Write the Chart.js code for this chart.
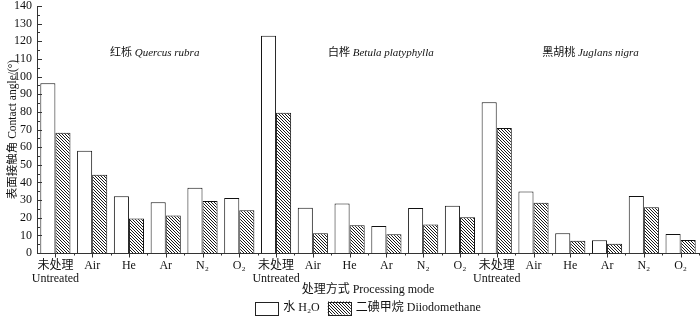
<!DOCTYPE html>
<html>
<head>
<meta charset="utf-8">
<script src="https://cdn.jsdelivr.net/npm/chart.js@4/dist/chart.umd.min.js"></script>
<style>
html,body{margin:0;padding:0;background:#fff;}
#wrap{width:700px;height:316px;position:relative;}
</style>
</head>
<body>
<div id="wrap"><canvas id="c" width="700" height="316"></canvas></div>
<script>
// ---- data ----
const categories = [
  ["未处理","Untreated"],"Air","He","Ar","N₂","O₂",
  ["未处理","Untreated"],"Air","He","Ar","N₂","O₂",
  ["未处理","Untreated"],"Air","He","Ar","N₂","O₂"
];
const waterValues = [96.2,58.0,32.1,28.7,37.0,31.2, 123.2,25.7,28.0,15.3,25.5,26.8, 85.4,34.8,11.2,7.2,32.3,10.8];
const diiodoValues = [68.2,44.4,19.5,21.3,29.5,24.2, 79.5,11.2,15.7,10.6,16.1,20.2, 70.9,28.5,7.0,5.3,25.9,7.4];
const seriesNames = ["水 H₂O","二碘甲烷 Diiodomethane"];
const groupNamesCN = ["红栎","白桦","黑胡桃"];
const groupNamesLatin = ["Quercus rubra","Betula platyphylla","Juglans nigra"];
const yTitle = "表面接触角 Contact angle/(°)";
const xTitle = "处理方式 Processing mode";

const SERIF = "'Liberation Serif','Noto Sans CJK SC',serif";

function hatch(){
  const s = 3;
  const c = document.createElement('canvas');
  c.width = s; c.height = s;
  const g = c.getContext('2d');
  g.fillStyle = '#fff'; g.fillRect(0,0,s,s);
  g.fillStyle = '#1a1a1a';
  for(let i=0;i<s;i++){ g.fillRect(i,i,1,1); }
  return document.getElementById('c').getContext('2d').createPattern(c,'repeat');
}
const hatchPattern = hatch();

const extras = {
  id:'extras',
  afterDraw(chart){
    const ctx = chart.ctx;
    const xs = chart.scales.x, ys = chart.scales.y;
    const area = chart.chartArea;
    const n = categories.length;
    const cw = (area.right - area.left)/n;
    ctx.save();
    ctx.strokeStyle = '#333'; ctx.lineWidth = 1;
    ctx.beginPath();
    // y inner ticks
    for(let v=0; v<=140; v+=5){
      const y = Math.round(ys.getPixelForValue(v))+0.5;
      const len = (v%10===0)?5:3;
      ctx.moveTo(area.left, y); ctx.lineTo(area.left+len, y);
    }
    // x ticks
    const yb = Math.round(area.bottom)+0.5;
    for(let i=0;i<n;i++){
      const x = Math.round(xs.getPixelForValue(i))+0.5;
      ctx.moveTo(x,yb); ctx.lineTo(x,yb+4);
      const xb = Math.round(area.left+(i+1)*cw)+0.5;
      ctx.moveTo(xb,yb); ctx.lineTo(xb,yb+2);
    }
    ctx.stroke();

    // group labels
    const anchors = [2.7, 8.85, 14.55];
    ctx.fillStyle = '#111';
    ctx.textBaseline = 'middle';
    const gy = ys.getPixelForValue(113.5);
    const gf = "11px " + SERIF, gfi = "italic 11px " + SERIF;
    for(let g=0; g<3; g++){
      const cx = area.left + (anchors[g]+0.5)*cw;
      ctx.font = gf;
      const w1 = ctx.measureText(groupNamesCN[g]+" ").width;
      ctx.font = gfi;
      const w2 = ctx.measureText(groupNamesLatin[g]).width;
      let x0 = cx - (w1+w2)/2;
      ctx.textAlign = 'left';
      ctx.font = gf;
      ctx.fillText(groupNamesCN[g]+" ", x0, gy);
      ctx.font = gfi;
      ctx.fillText(groupNamesLatin[g], x0+w1, gy);
    }

    // x title
    ctx.font = "12px " + SERIF;
    ctx.textAlign = 'center';
    const midX = (area.left+area.right)/2;
    ctx.fillText(xTitle, midX, 290);

    // legend
    const ds = chart.data.datasets;
    const boxW = 23, boxH = 13, gap = 5, itemGap = 8;
    let widths = ds.map(d => boxW + gap + ctx.measureText(d.label).width);
    let total = widths.reduce((a,b)=>a+b,0) + itemGap*(ds.length-1);
    let x = midX - total/2;
    const ly = 308;
    ctx.textAlign = 'left';
    ds.forEach((d,i)=>{
      ctx.fillStyle = d.backgroundColor;
      ctx.fillRect(x, ly-boxH/2, boxW, boxH);
      ctx.strokeStyle = '#222';
      ctx.strokeRect(Math.round(x)+0.5, Math.round(ly-boxH/2)+0.5, boxW, boxH);
      ctx.fillStyle = '#111';
      ctx.fillText(d.label, x+boxW+gap, ly);
      x += widths[i] + itemGap;
    });
    ctx.restore();
  }
};

new Chart(document.getElementById('c'), {
  type:'bar',
  data:{
    labels: categories,
    datasets:[
      {label: seriesNames[0], data: waterValues, backgroundColor:'#ffffff', borderColor:'#111', borderWidth:1},
      {label: seriesNames[1], data: diiodoValues, backgroundColor: hatchPattern, borderColor:'#111', borderWidth:1}
    ]
  },
  options:{
    responsive:false,
    animation:false,
    devicePixelRatio:1,
    layout:{padding:{top:6,right:1,left:0,bottom:0}},
    datasets:{bar:{categoryPercentage:0.82, barPercentage:1.0}},
    plugins:{legend:{display:false}, tooltip:{enabled:false}},
    scales:{
      x:{
        grid:{display:false, drawTicks:false},
        border:{display:true, color:'#333', width:1},
        ticks:{color:'#111', font:{family:SERIF, size:12, lineHeight:1.1}, padding:6, maxRotation:0, autoSkip:false},
        afterFit(s){ s.height = 63; }
      },
      y:{
        min:0, max:140,
        grid:{display:false, drawTicks:false},
        border:{display:true, color:'#333', width:1},
        ticks:{stepSize:10, color:'#111', font:{family:SERIF, size:12}, padding:5},
        title:{display:true, text:yTitle, color:'#111', font:{family:SERIF, size:11.5}, padding:{top:6,bottom:2}},
        afterFit(s){ s.width = 37; s.paddingTop = 0; s.paddingBottom = 0; }
      }
    }
  },
  plugins:[extras]
});
</script>
</body>
</html>
